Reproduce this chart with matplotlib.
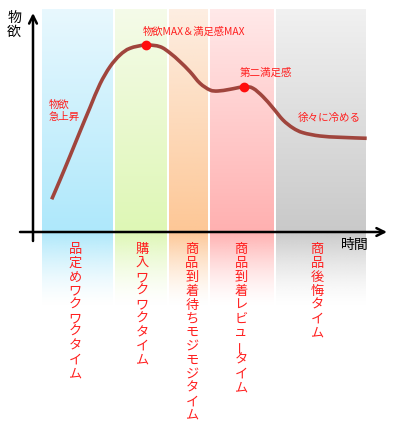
import numpy as np
import matplotlib.pyplot as plt
from matplotlib.colors import to_rgb
from matplotlib.path import Path
from matplotlib.patches import PathPatch

plt.rcParams['font.family'] = ['Noto Sans CJK JP', 'DejaVu Sans']

# curve: time vs desire
time = [18.7, 27, 37, 47, 57, 67, 77, 87, 97, 112.7, 127, 137, 147, 157, 167,
        177, 185, 197, 211.3, 220, 230, 240, 250, 260, 270, 287, 307, 333.7]
desire = [32.7, 52, 76, 100.5, 124.5, 148, 165.3, 177, 183.7, 187, 185.3, 179,
          170.3, 160.3, 148.7, 142, 141, 142.7, 145.3, 143.7, 135.3, 124, 112,
          104, 99.3, 96, 94.7, 93.7]

# highlighted points
peak_t = [112.7, 211.3]
peak_d = [187, 145.3]

# phases
phase_labels = ["品定めワクワクタイム", "購入ワクワクタイム", "商品到着待ちモジモジタイム",
                "商品到着レビュータイム", "商品後悔タイム"]
phase_start = [8.7, 82, 136.3, 177, 243]
phase_end = [79.7, 133.7, 174.7, 241, 333]
phase_label_t = [42, 109, 159, 208, 284]
phase_top = ["#e8f8fe", "#f5fbe9", "#fdeee2", "#ffe9e9", "#f1f1f1"]
phase_bottom = ["#aee8fb", "#def7b5", "#fdc796", "#ffb0b0", "#c9c9c9"]

red = "#ff1f1f"

fig = plt.figure(figsize=(3.99, 4.28), dpi=100)
ax = fig.add_axes([0, 0, 1, 1])

band_top = 223
fade_bottom = -75
for x0, x1, ct, cb in zip(phase_start, phase_end, phase_top, phase_bottom):
    ct, cb = np.array(to_rgb(ct)), np.array(to_rgb(cb))
    n = 200
    f = np.linspace(0, 1, n)[:, None]
    img = np.ones((n, 1, 4))
    img[:, 0, :3] = ct * (1 - f) + cb * f
    ax.imshow(img, extent=[x0, x1, 0, band_top], aspect='auto', zorder=0,
              interpolation='bilinear')
    img2 = np.ones((n, 1, 4))
    img2[:, 0, :3] = cb
    img2[:, 0, 3] = np.linspace(1, 0, n) ** 1.5
    ax.imshow(img2, extent=[x0, x1, fade_bottom, 0], aspect='auto', zorder=0,
              interpolation='bilinear')

# curve, drawn as a smooth bezier path through the read points
pts = np.column_stack([time, desire])
verts = [pts[0]]
codes = [Path.MOVETO]
for i in range(len(pts) - 1):
    p0 = pts[max(i - 1, 0)]
    p1, p2 = pts[i], pts[i + 1]
    p3 = pts[min(i + 2, len(pts) - 1)]
    verts += [p1 + (p2 - p0) / 6, p2 - (p3 - p1) / 6, p2]
    codes += [Path.CURVE4] * 3
ax.add_patch(PathPatch(Path(verts, codes), fill=False, edgecolor="#a0453d",
                       lw=2.6, capstyle='butt', joinstyle='round', zorder=3))
ax.plot(peak_t, peak_d, 'o', color="#ff0d0d", ms=6, zorder=4)

# axes arrows
ax.annotate("", xy=(0, 219), xytext=(0, -9),
            arrowprops=dict(arrowstyle='->', lw=1.8, color='black', mutation_scale=14,
                            shrinkA=0, shrinkB=0), zorder=5)
ax.annotate("", xy=(354, 0), xytext=(-13, 0),
            arrowprops=dict(arrowstyle='->', lw=1.8, color='black', mutation_scale=14,
                            shrinkA=0, shrinkB=0), zorder=5)

ax.text(-19, 207, "物\n欲", ha='center', va='center', fontsize=10, linespacing=1.0)
ax.text(321.5, -13, "時間", ha='center', va='center', fontsize=10)

ax.text(161, 200, "物欲MAX＆満足感MAX", ha='center', va='center', fontsize=7.4, color=red)
ax.text(16, 121, "物欲\n急上昇", ha='left', va='center', fontsize=7.5, color=red,
        linespacing=1.2)
ax.text(232.5, 159, "第二満足感", ha='center', va='center', fontsize=7.6, color=red)
ax.text(296, 114, "徐々に冷める", ha='center', va='center', fontsize=7.6, color=red)

# vertical phase labels, one character per step
step = 13.8
for label, t in zip(phase_labels, phase_label_t):
    for i, ch in enumerate(label):
        rot = 90 if ch == "ー" else 0
        ax.text(t, -11 - step * i - step / 2, ch, ha='center', va='center',
                fontsize=9.5, color=red, rotation=rot)

ax.set_xlim(-33, 366)
ax.set_ylim(-196, 232)
ax.axis('off')

fig.savefig("out.png", dpi=100)
